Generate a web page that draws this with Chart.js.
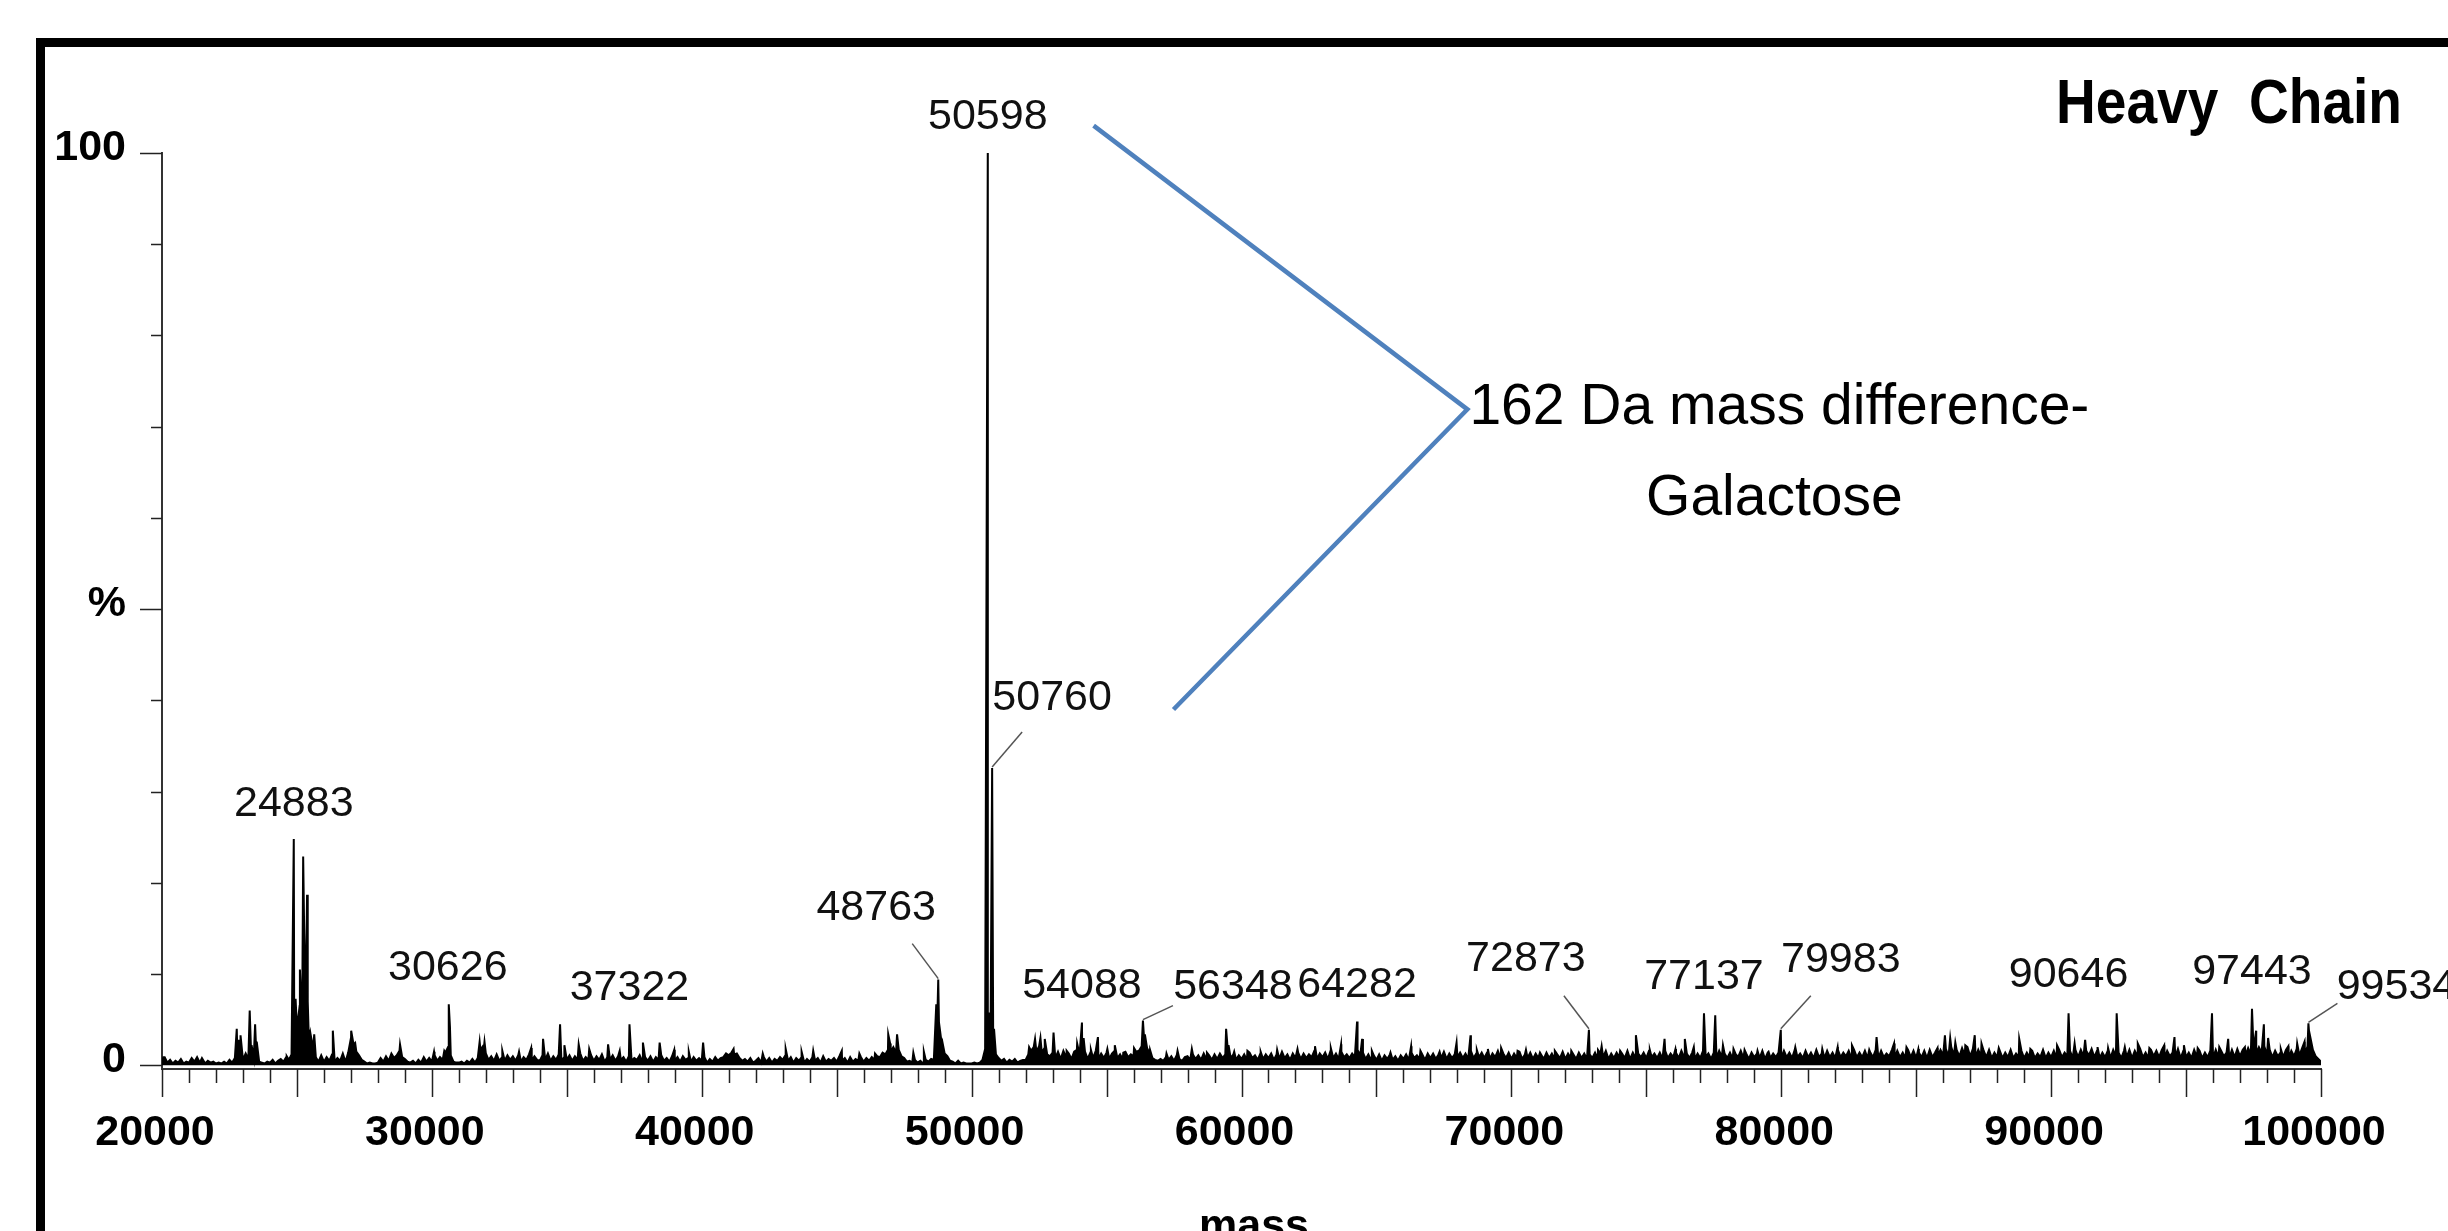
<!DOCTYPE html>
<html>
<head>
<meta charset="utf-8">
<title>Heavy Chain – deconvoluted mass spectrum</title>
<style>
  html, body { margin: 0; padding: 0; background: #fff; overflow: hidden; }
  canvas { display: block; }
</style>
<script src="https://cdn.jsdelivr.net/npm/chart.js@4.4.1/dist/chart.umd.min.js"></script>
</head>
<body>
<canvas id="spectrum" width="2448" height="1231"></canvas>
<script>
// ---- Spectrum data -------------------------------------------------------
const massMin = 20000;
const massMax = 100000;

// Baseline trace, one reading every 100 Da from 20000 Da (relative intensity, %)
const noiseStart = 20000;
const noiseStep = 100;
const baselineNoise = [
  0.5,0.9,0.3,0.6,0.2,0.5,0.3,0.7,0.2,0.4,   // 20000
  0.3,0.8,0.4,0.9,0.3,0.7,0.2,0.5,0.3,0.4,   // 21000
  0.2,0.3,0.2,0.4,0.2,0.6,0.3,0.8,0.5,1.1,   // 22000
  0.6,1.3,0.7,1.5,0.8,0.9,0.4,0.3,0.2,0.4,   // 23000
  0.3,0.6,0.2,0.5,0.7,0.4,0.9,0.6,1.2,3.0,   // 24000
  4.0,6.5,8.0,9.5,7.0,3.5,1.8,0.9,0.4,1.1,   // 25000
  0.4,0.9,0.5,1.2,0.4,0.8,0.5,1.3,0.4,1.4,   // 26000
  1.9,2.1,1.5,1.1,0.6,0.4,0.2,0.3,0.2,0.2,   // 27000
  0.3,0.8,0.4,1.0,0.5,1.3,0.8,1.1,1.6,0.9,   // 28000
  0.7,0.4,0.3,0.5,0.2,0.6,0.3,0.9,0.4,0.8,   // 29000
  0.4,1.1,0.5,0.9,0.6,1.4,2.0,1.1,0.4,0.3,   // 30000
  0.3,0.4,0.2,0.5,0.3,0.7,0.3,0.8,1.7,1.2,   // 31000
  1.3,0.6,1.0,0.5,1.2,0.5,0.9,0.5,1.1,0.6,   // 32000
  1.0,0.5,1.1,0.4,0.9,0.6,1.2,0.5,1.0,0.6,   // 33000
  0.5,1.1,0.6,1.3,0.5,1.0,0.6,1.2,0.5,0.9,   // 34000
  0.6,1.1,0.5,1.0,0.6,1.3,0.5,0.9,0.6,1.1,   // 35000
  0.5,1.0,0.6,1.2,0.4,0.9,0.6,1.1,0.5,1.0,   // 36000
  0.6,0.9,0.4,1.0,0.5,0.8,0.6,1.1,0.4,0.9,   // 37000
  0.5,1.0,0.4,0.9,0.6,1.1,0.5,0.8,0.4,1.0,   // 38000
  0.5,0.9,0.4,1.0,0.6,0.8,0.4,0.9,0.5,0.8,   // 39000
  0.5,0.9,0.3,0.7,0.4,0.9,0.5,0.8,0.9,1.3,   // 40000
  1.1,1.4,1.2,1.3,0.8,0.5,0.7,0.4,0.8,0.3,   // 41000
  0.5,0.8,0.3,0.9,0.4,0.8,0.3,0.7,0.5,0.9,   // 42000
  0.6,1.1,0.5,0.9,0.3,0.8,0.5,0.9,0.3,0.7,   // 43000
  0.4,0.9,0.5,0.8,0.3,1.0,0.4,0.7,0.5,0.8,   // 44000
  0.4,1.0,0.5,0.8,0.3,0.9,0.4,0.7,0.5,0.9,   // 45000
  0.4,0.8,0.5,0.9,0.6,1.0,0.9,1.4,1.2,1.7,   // 46000
  1.5,2.0,1.4,1.7,1.0,0.8,0.4,0.5,0.3,0.6,   // 47000
  0.3,0.5,0.2,0.6,0.4,0.7,0.6,1.6,2.8,2.2,   // 48000
  1.3,1.0,0.5,0.4,0.2,0.5,0.2,0.3,0.2,0.2,   // 49000
  0.2,0.3,0.2,0.3,0.6,1.8,3.2,2.6,1.8,1.2,   // 50000
  0.8,0.5,0.7,0.3,0.6,0.4,0.7,0.3,0.5,0.6,   // 51000
  0.6,1.2,1.6,2.0,1.5,2.1,1.4,1.9,1.2,1.0,   // 52000
  1.4,0.8,1.5,0.7,1.6,0.9,1.3,0.7,1.5,1.7,   // 53000
  1.2,0.8,1.5,0.7,1.4,0.8,1.6,0.7,1.3,0.8,   // 54000
  1.4,0.7,1.3,1.6,0.8,1.2,0.7,1.5,0.9,1.2,   // 55000
  1.0,1.5,1.6,2.1,2.5,1.9,1.3,0.8,0.6,0.5,   // 56000
  0.7,0.5,0.9,0.6,1.0,0.5,1.1,0.7,0.5,0.9,   // 57000
  1.0,0.6,1.2,0.7,1.1,0.6,1.3,0.7,1.1,0.6,   // 58000
  1.2,0.7,1.3,0.8,1.2,1.4,0.8,1.2,0.6,1.1,   // 59000
  0.7,1.2,0.6,1.4,0.8,1.1,0.6,1.3,0.7,1.2,   // 60000
  0.8,1.3,0.6,1.2,0.7,1.5,0.8,1.2,0.6,1.3,   // 61000
  0.8,1.4,0.7,1.3,0.8,1.2,0.9,1.6,0.7,1.3,   // 62000
  0.9,1.4,0.7,1.6,0.8,1.3,0.7,1.5,0.9,1.2,   // 63000
  0.8,1.3,0.9,1.7,1.1,1.4,0.7,1.2,0.6,1.1,   // 64000
  0.6,1.2,0.5,1.1,0.7,1.2,0.6,1.0,0.5,1.1,   // 65000
  0.7,1.2,0.6,1.4,0.8,1.1,0.7,1.2,0.6,1.3,   // 66000
  0.8,1.3,0.7,1.2,0.8,1.5,0.7,1.3,0.8,1.2,   // 67000
  0.9,1.4,0.8,1.3,0.7,1.6,0.8,1.3,0.9,1.4,   // 68000
  0.8,1.4,0.7,1.3,0.9,1.6,0.7,1.3,0.8,1.4,   // 69000
  0.7,1.3,0.8,1.5,0.7,1.2,0.8,1.4,0.7,1.3,   // 70000
  0.8,1.2,0.7,1.4,0.8,1.3,0.7,1.2,0.8,1.5,   // 71000
  0.7,1.3,0.8,1.2,0.7,1.4,0.8,1.3,0.7,1.2,   // 72000
  0.8,1.4,0.7,1.3,0.9,1.6,0.7,1.3,0.8,1.4,   // 73000
  0.9,1.3,0.8,1.6,0.7,1.4,0.8,1.3,0.9,1.4,   // 74000
  0.8,1.6,0.9,1.3,0.8,1.4,0.7,1.6,0.8,1.3,   // 75000
  0.9,1.4,0.8,1.6,0.9,1.3,0.8,1.4,0.7,1.3,   // 76000
  0.8,1.6,0.9,1.3,0.7,1.4,0.8,1.6,0.9,1.3,   // 77000
  0.8,1.4,0.7,1.3,0.9,1.6,0.8,1.3,0.7,1.4,   // 78000
  0.9,1.3,0.8,1.6,0.7,1.4,0.8,1.3,0.9,1.4,   // 79000
  0.8,1.6,0.9,1.4,0.8,1.7,0.9,1.3,0.8,1.6,   // 80000
  0.9,1.4,0.8,1.7,0.9,1.3,0.8,1.6,0.9,1.4,   // 81000
  0.8,1.7,0.9,1.4,1.0,1.6,0.8,1.7,0.9,1.4,   // 82000
  0.9,1.6,0.8,1.4,0.9,1.7,0.8,1.6,0.9,1.3,   // 83000
  1.0,1.7,0.8,1.6,0.9,1.4,0.8,1.7,0.9,1.6,   // 84000
  0.8,1.4,0.9,1.6,0.8,1.7,0.9,1.4,1.0,1.7,   // 85000
  1.1,1.8,1.0,2.0,1.1,1.7,1.0,1.9,1.1,2.0,   // 86000
  1.0,1.8,0.9,1.7,1.0,1.6,0.9,1.7,0.8,1.4,   // 87000
  0.9,1.6,0.8,1.4,0.9,1.7,0.8,1.3,0.9,1.6,   // 88000
  0.8,1.4,0.9,1.6,0.8,1.3,0.9,1.7,0.8,1.4,   // 89000
  0.9,1.6,0.8,1.7,0.9,1.4,1.0,1.6,0.8,1.7,   // 90000
  0.9,1.7,1.0,1.6,1.1,1.8,0.9,1.6,0.8,1.4,   // 91000
  0.9,1.6,0.8,1.7,1.0,1.4,0.8,1.6,0.9,1.7,   // 92000
  0.8,1.6,1.0,1.8,0.9,1.4,0.8,1.7,1.0,1.6,   // 93000
  0.9,1.7,0.8,1.6,1.0,1.4,0.9,1.8,0.8,1.6,   // 94000
  0.9,1.4,0.8,1.7,0.9,1.6,0.8,1.4,0.9,1.6,   // 95000
  0.8,1.7,0.9,1.6,1.0,1.4,0.8,1.7,0.9,1.8,   // 96000
  1.0,1.7,1.1,1.9,1.2,1.8,1.3,2.0,1.4,2.1,   // 97000
  1.1,1.7,0.9,1.6,1.0,1.4,0.9,1.7,0.8,1.6,   // 98000
  1.0,1.8,1.1,1.9,1.2,2.1,1.9,1.7,1.0,0.7,   // 99000
  0.4                                        // 100000
];

// Resolved peaks: mass (Da) and relative intensity (%)
const peakMass = [
  20050, 21480, 22770, 22840, 22910, 23250, 23320, 23450, 23510, 24620,
  24883, 24950, 25110, 25180, 25231, 25270, 25330, 25375, 25430, 25480,
  25640, 26330, 26970, 27010, 27080, 27160, 28820, 30080, 30460, 30626,
  30670, 31770, 31870, 31950, 32610, 33230, 33680, 34120, 34750, 34910,
  35440, 35830, 36530, 36960, 37322, 37820, 38440, 38980, 39520, 40050,
  41180, 42260, 43110, 43700, 44130, 45190, 45840, 46420, 46910, 46980,
  47237, 47840, 48230, 48690, 48763, 48830, 48920, 50598, 50650, 50760,
  50830, 52130, 52350, 52550, 52710, 53035, 53520, 53910, 54088, 54150,
  54420, 54680, 55030, 55305, 55620, 56018, 56348, 56420, 56610, 57220,
  57630, 58160, 58720, 59430, 59520, 59730, 60220, 60710, 61320, 62075,
  62723, 63310, 63690, 64282, 64470, 64830, 65520, 66285, 66630, 67340,
  67969, 68487, 68720, 69130, 69620, 70230, 70540, 71060, 71610, 72220,
  72873, 73210, 73345, 74030, 74614, 75130, 75676, 76080, 76427, 76760,
  77137, 77554, 77840, 78230, 78640, 79120, 79530, 79983, 80520, 81520,
  82090, 82620, 83260, 83532, 84180, 84640, 85080, 85790, 86065, 86260,
  86450, 86820, 87170, 87420, 88060, 88818, 89230, 89710, 90220, 90646,
  90870, 91260, 91720, 92110, 92429, 92730, 93210, 93640, 94190, 94571,
  94920, 95430, 95961, 96230, 96560, 97180, 97443, 97597, 97883, 98040,
  98510, 98790, 99117, 99390, 99534, 99610
];
const peakPct = [
  0.9, 0.8, 4.0, 2.8, 3.3, 6.0, 2.2, 4.5, 2.6, 1.0,
  24.8, 7.3, 10.5, 5.1, 22.9, 14.4, 8.0, 18.7, 4.0, 3.0,
  3.4, 3.8, 2.5, 3.8, 2.6, 2.4, 2.3, 1.5, 1.6, 6.7,
  4.2, 2.6, 2.0, 2.6, 1.6, 1.5, 1.9, 2.9, 4.5, 2.2,
  2.3, 1.8, 2.3, 1.6, 4.5, 2.5, 2.5, 1.7, 1.5, 2.5,
  1.8, 1.3, 1.8, 1.5, 1.6, 1.6, 1.3, 1.3, 3.4, 2.4,
  3.4, 1.4, 1.5, 6.7, 9.4, 3.8, 2.5, 100, 5.8, 32.6,
  4.0, 2.0, 2.9, 3.0, 2.9, 3.6, 1.6, 2.4, 4.7, 3.0,
  1.7, 3.1, 1.8, 2.2, 1.4, 1.9, 4.9, 3.4, 1.7, 1.3,
  1.6, 1.8, 1.4, 4.0, 2.2, 1.5, 1.6, 1.5, 1.7, 1.8,
  2.1, 1.9, 2.3, 4.8, 2.9, 1.6, 1.4, 2.1, 1.6, 1.5,
  2.5, 3.3, 1.7, 1.8, 1.9, 1.6, 1.7, 1.4, 1.6, 1.6,
  3.9, 1.7, 2.1, 1.6, 3.3, 1.7, 2.9, 1.8, 2.9, 2.0,
  5.7, 5.5, 2.2, 1.8, 1.7, 1.6, 1.5, 3.9, 2.0, 1.8,
  2.0, 2.2, 1.7, 3.1, 2.4, 2.0, 1.8, 1.9, 3.3, 3.0,
  2.5, 2.2, 3.3, 2.4, 1.9, 2.9, 1.8, 1.7, 2.2, 5.7,
  2.4, 2.8, 2.0, 1.9, 5.7, 2.0, 2.4, 1.9, 2.2, 3.1,
  2.2, 1.9, 5.7, 2.0, 2.9, 2.0, 6.2, 3.8, 4.5, 3.0,
  1.8, 2.1, 2.4, 2.6, 4.6, 3.0
];

// Peaks annotated with their mass
const labelledPeaks = [24883, 30626, 37322, 48763, 50598, 50760, 54088, 56348,
                       64282, 72873, 77137, 79983, 90646, 97443, 99534];

// Axis tick labels
const xLabelValues = [20000, 30000, 40000, 50000, 60000, 70000, 80000, 90000, 100000];
const yLabelValues = [0, 50, 100];
const yLabelTexts  = ['0', '%', '100'];

// Bracket pointing at the 162 Da pair (mass, %)
const bracketMass = [54520, 68370, 57480];
const bracketPct  = [103.0, 71.9, 39.0];

// ---- Layout of the callouts (pixel offsets from each peak apex) -----------
const calloutLayout = {
  24883: { dx: 0,   dy: -35 },
  30626: { dx: -1,  dy: -36 },
  37322: { dx: 0,   dy: -36 },
  48763: { dx: -62, dy: -71, leader: [-26, -36] },
  50598: { dx: 0,   dy: -36 },
  50760: { dx: 60,  dy: -70, leader: [30, -36] },
  54088: { dx: 0,   dy: -36 },
  56348: { dx: 90,  dy: -34, leader: [30, -15] },
  64282: { dx: 0,   dy: -36 },
  72873: { dx: -63, dy: -71, leader: [-25, -34] },
  77137: { dx: 0,   dy: -36 },
  79983: { dx: 60,  dy: -70, leader: [30, -34] },
  90646: { dx: 0,   dy: -38 },
  97443: { dx: 0,   dy: -37 },
  99534: { dx: 88,  dy: -36, leader: [29, -20] }
};

const FONT = '"Liberation Sans", Arial, sans-serif';
Chart.defaults.font.family = FONT;

// ---- Build the profile (baseline readings merged with resolved peaks) ------
const profile = baselineNoise.map((v, i) => ({ x: noiseStart + i * noiseStep, y: v }));
peakMass.forEach((m, i) => profile.push({ x: m, y: peakPct[i] }));
profile.sort((a, b) => a.x - b.x);

const xTickMarks = [];
for (let m = massMin; m <= massMax; m += 1000) xTickMarks.push(m);
const yTickMarks = [];
for (let v = 0; v <= 100; v += 10) yTickMarks.push(v);

function pctOf(mass) {
  return peakPct[peakMass.indexOf(mass)];
}

// Text squeezed horizontally to a given width (tall, narrow title face)
function fillFitted(c, text, right, baseline, width) {
  const w = c.measureText(text).width;
  c.save();
  c.translate(right, baseline);
  c.scale(width / w, 1);
  c.textAlign = 'right';
  c.fillText(text, 0, 0);
  c.restore();
}

// ---- Frame, tick marks, callouts and annotation ----------------------------
const decorations = {
  id: 'decorations',
  beforeDraw(chart) {
    const c = chart.ctx;
    c.save();
    c.fillStyle = '#fff';
    c.fillRect(0, 0, chart.width, chart.height);
    c.strokeStyle = '#000';
    c.lineWidth = 9;
    c.strokeRect(40.5, 42.5, chart.width + 400, chart.height + 400);
    c.restore();
  },
  afterDraw(chart) {
    const c = chart.ctx;
    const { x, y } = chart.scales;
    const a = chart.chartArea;
    c.save();

    // tick marks
    c.strokeStyle = '#222';
    c.lineWidth = 1.5;
    c.beginPath();
    xTickMarks.forEach(m => {
      const px = Math.round(x.getPixelForValue(m)) + 0.5;
      const len = m % 5000 === 0 ? 28 : 14;
      c.moveTo(px, a.bottom);
      c.lineTo(px, a.bottom + len);
    });
    yTickMarks.forEach(v => {
      const py = Math.round(y.getPixelForValue(v)) + 0.5;
      const len = v % 50 === 0 ? 22 : 11;
      c.moveTo(a.left - len, py);
      c.lineTo(a.left, py);
    });
    c.stroke();

    // peak callouts
    c.font = '43px ' + FONT;
    c.textAlign = 'center';
    c.textBaseline = 'middle';
    labelledPeaks.forEach(m => {
      const px = x.getPixelForValue(m);
      const py = y.getPixelForValue(pctOf(m));
      const L = calloutLayout[m];
      if (L.leader) {
        c.strokeStyle = '#555';
        c.lineWidth = 1.5;
        c.beginPath();
        c.moveTo(px + L.leader[0], py + L.leader[1]);
        c.lineTo(px, py - 1);
        c.stroke();
      }
      c.fillStyle = '#111';
      c.fillText(String(m), px + L.dx, py + L.dy);
    });

    // bracket linking the two glycoforms
    c.strokeStyle = '#4f81bd';
    c.lineWidth = 4.5;
    c.lineJoin = 'miter';
    c.beginPath();
    bracketMass.forEach((m, i) => {
      const px = x.getPixelForValue(m);
      const py = y.getPixelForValue(bracketPct[i]);
      if (i === 0) c.moveTo(px, py); else c.lineTo(px, py);
    });
    c.stroke();

    c.fillStyle = '#000';
    c.font = '57px ' + FONT;
    c.textAlign = 'center';
    c.textBaseline = 'middle';
    const tx = x.getPixelForValue(79930);
    c.fillText('162 Da mass difference-', tx, y.getPixelForValue(72.0));
    c.fillText('Galactose', tx - 5, y.getPixelForValue(62.0));

    // x-axis title
    c.font = 'bold 43px ' + FONT;
    c.textBaseline = 'alphabetic';
    c.fillText('mass', 1254, 1239);

    // panel title
    c.font = 'bold 63px ' + FONT;
    fillFitted(c, 'Heavy  Chain', 2402, 123, 346);

    c.restore();
  }
};

new Chart(document.getElementById('spectrum'), {
  type: 'line',
  data: {
    datasets: [{
      data: profile,
      borderColor: '#000',
      backgroundColor: '#000',
      borderWidth: 2,
      fill: 'origin',
      pointRadius: 0,
      tension: 0
    }]
  },
  options: {
    responsive: false,
    animation: false,
    devicePixelRatio: 1,
    layout: { padding: { left: 0, top: 153, right: 127, bottom: 0 } },
    plugins: { legend: { display: false }, tooltip: { enabled: false } },
    scales: {
      x: {
        type: 'linear',
        position: 'bottom',
        min: massMin,
        max: massMax,
        afterBuildTicks: s => { s.ticks = xLabelValues.map(v => ({ value: v })); },
        afterFit: s => { s.height = 162; },
        grid: { display: false },
        border: { display: true, color: '#333', width: 2 },
        ticks: {
          autoSkip: false,
          maxRotation: 0,
          padding: 30,
          labelOffset: -7,
          color: '#000',
          font: { size: 43, weight: 'bold' },
          callback: v => String(v)
        }
      },
      y: {
        type: 'linear',
        min: -0.4,
        max: 100,
        afterBuildTicks: s => { s.ticks = yLabelValues.map(v => ({ value: v })); },
        afterFit: s => { s.width = 162; },
        grid: { display: false },
        border: { display: true, color: '#333', width: 2 },
        ticks: {
          padding: 28,
          labelOffset: -5,
          color: '#000',
          font: { size: 43, weight: 'bold' },
          callback: v => yLabelTexts[yLabelValues.indexOf(v)]
        }
      }
    }
  },
  plugins: [decorations]
});
</script>
</body>
</html>
